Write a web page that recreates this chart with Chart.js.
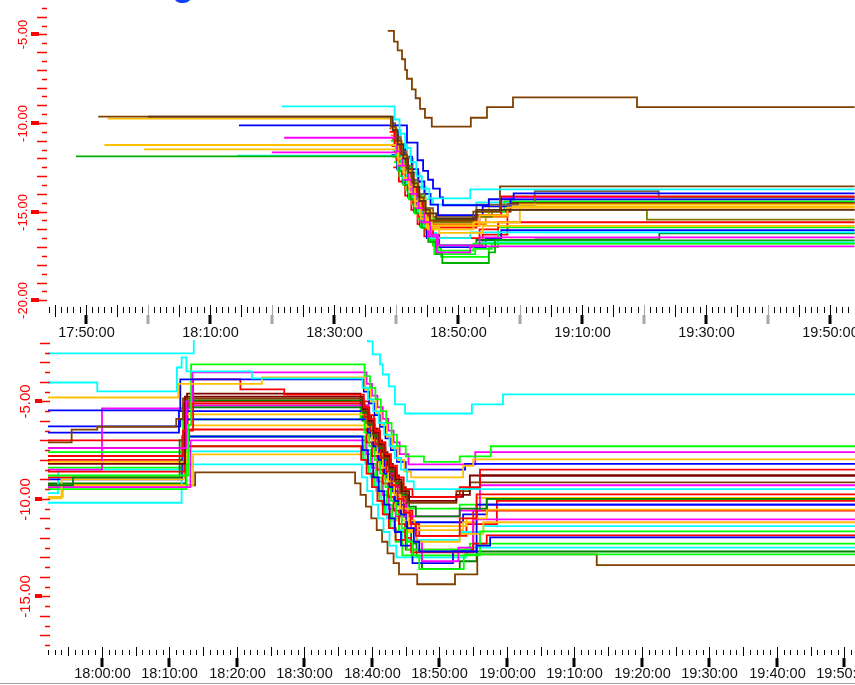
<!DOCTYPE html>
<html>
<head>
<meta charset="utf-8">
<script src="https://cdn.jsdelivr.net/npm/chart.js@4.4.1/dist/chart.umd.min.js"></script>
<style>
  html, body { margin: 0; padding: 0; background: #fff; width: 855px; height: 685px; overflow: hidden; }
  canvas { position: absolute; left: 0; }
  #topChart { top: 0; }
  #bottomChart { top: 340px; }
  #rule { position: absolute; left: 0; top: 683px; width: 855px; height: 1px; background: #a0a0a0; }
  #cut { position: absolute; left: 172px; top: -35px; font: bold 36px "Liberation Sans", Arial, sans-serif; line-height: 36px; color: #1040ff; }
</style>
</head>
<body>
<div id="cut">g</div>
<canvas id="topChart" width="855" height="340"></canvas>
<canvas id="bottomChart" width="855" height="345"></canvas>
<div id="rule"></div>
<script>

// ---- upper panel ----
const top01 = [[38.7,-4.8],[39.7,-5.4],[40.3,-5.9],[41.0,-6.4],[41.5,-7.0],[41.8,-7.5],[42.6,-8.1],[43.2,-8.6],[43.9,-9.2],[44.7,-9.7],[45.8,-10.2],[52.1,-9.7],[54.7,-9.1],[58.9,-8.55],[78.9,-9.1],[114,-9.1]];
const top02 = [[21.6,-9.06],[39.8,-9.8],[40.6,-10.6],[41.5,-11.4],[42.4,-12.2],[43.3,-13.0],[44.2,-13.7],[45.4,-14.25],[52.0,-13.74],[114,-13.74]];
const top03 = [[0,-9.64],[39.5,-10.4],[40.3,-11.2],[41.2,-12.0],[42.0,-12.8],[42.9,-13.6],[43.8,-14.4],[44.8,-15.1],[46.5,-15.4],[53.0,-14.9],[114,-14.9]];
const top04 = [[-8,-9.64],[39.2,-10.2],[40.0,-11.0],[40.9,-11.8],[41.8,-12.6],[42.7,-13.4],[43.6,-14.2],[44.5,-14.9],[45.5,-15.5],[52.5,-15.0],[56.8,-13.57],[114,-13.57]];
const top05 = [[-6.5,-9.75],[39.3,-10.3],[40.2,-11.1],[41.0,-11.9],[41.9,-12.7],[42.8,-13.5],[43.7,-14.3],[44.7,-15.0],[45.8,-15.8],[53.5,-15.2],[58.0,-14.76],[114,-14.76]];
const top06 = [[14.7,-10.13],[41.8,-11.1],[43.5,-12.1],[44.4,-12.7],[45.2,-13.2],[46.0,-13.7],[47.1,-14.2],[47.6,-14.64],[55.0,-14.3],[59.0,-13.97],[114,-13.97]];
const top07 = [[22,-10.83],[40.2,-11.6],[41.1,-12.4],[42.0,-13.2],[42.8,-14.0],[43.7,-14.8],[44.6,-15.6],[45.6,-16.3],[46.8,-16.9],[53.5,-16.45],[114,-16.45]];
const top08 = [[-7,-11.24],[40.3,-12.0],[41.2,-12.8],[42.1,-13.6],[43.0,-14.4],[43.9,-15.2],[44.9,-15.9],[47.0,-16.2],[54.0,-15.8],[114,-15.8]];
const top09 = [[-0.6,-11.49],[40.4,-12.3],[41.3,-13.1],[42.2,-13.9],[43.1,-14.7],[44.0,-15.4],[45.2,-16.0],[52.5,-15.6],[60.0,-14.59],[114,-14.59]];
const top10 = [[20,-11.66],[40.5,-12.4],[41.4,-13.2],[42.3,-14.0],[43.2,-14.8],[44.1,-15.6],[45.2,-16.4],[46.6,-17.3],[52.0,-16.96],[114,-16.96]];
const top11 = [[-11.6,-11.88],[40.6,-12.7],[41.5,-13.5],[42.4,-14.3],[43.3,-15.1],[44.2,-15.9],[45.3,-16.7],[46.5,-17.4],[47.5,-17.9],[55.0,-17.3],[56.0,-16.62],[114,-16.62]];
const top12 = [[14.4,-11.84],[40.7,-12.6],[41.6,-13.4],[42.5,-14.2],[43.4,-15.0],[44.3,-15.8],[45.5,-16.5],[52.0,-16.17],[114,-16.17]];
const top13 = [[39.0,-10.5],[39.8,-11.2],[40.7,-12.0],[41.6,-12.8],[42.5,-13.6],[43.4,-14.4],[44.3,-15.2],[45.5,-15.9],[53.0,-15.2],[57.0,-14.14],[114,-14.14]];
const top14 = [[39.2,-11.0],[40.0,-11.8],[40.9,-12.6],[41.8,-13.4],[42.7,-14.2],[43.6,-15.0],[44.5,-15.8],[45.6,-16.6],[46.8,-17.2],[52.5,-16.8],[114,-16.8]];
const top15 = [[39.1,-10.0],[39.9,-10.8],[40.8,-11.6],[41.7,-12.4],[42.6,-13.2],[43.5,-14.0],[44.6,-14.8],[46.0,-15.3],[53.0,-14.6],[62.4,-13.85],[82.4,-14.2],[114,-14.2]];
const top16 = [[39.4,-10.9],[40.3,-11.7],[41.2,-12.5],[42.1,-13.3],[43.0,-14.1],[44.0,-14.9],[45.2,-15.6],[52.8,-15.3],[55.5,-14.9],[80.5,-15.45],[114,-15.45]];
const top17 = [[39.5,-10.5],[40.4,-11.2],[41.5,-11.9],[42.6,-12.6],[43.6,-13.3],[44.6,-14.0],[45.6,-14.6],[46.8,-15.2],[54.0,-14.7],[58.5,-14.31],[114,-14.31]];
const top18 = [[39.3,-11.3],[40.1,-12.1],[41.0,-12.9],[41.9,-13.7],[42.8,-14.5],[43.7,-15.3],[44.8,-16.0],[46.0,-16.5],[53.5,-16.0],[56.5,-15.6],[114,-15.6]];
const top19 = [[39.6,-10.8],[40.5,-11.6],[41.4,-12.4],[42.3,-13.2],[43.2,-14.0],[44.2,-14.8],[45.4,-15.4],[53.0,-15.0],[57.5,-14.42],[114,-14.42]];
const top20 = [[39.4,-11.5],[40.3,-12.3],[41.2,-13.1],[42.1,-13.9],[43.0,-14.7],[44.0,-15.5],[45.2,-16.2],[46.5,-16.9],[53.5,-16.73],[114,-16.73]];
const top21 = [[39.2,-10.7],[40.0,-11.5],[40.9,-12.3],[41.8,-13.1],[42.7,-13.9],[43.6,-14.7],[44.6,-15.4],[46.0,-15.7],[54.5,-15.3],[58.0,-14.87],[114,-14.87]];
const top22 = [[39.0,-10.3],[39.8,-11.1],[40.7,-11.9],[41.6,-12.7],[42.5,-13.5],[43.4,-14.3],[44.4,-15.0],[45.5,-15.5],[53.0,-15.0],[58.5,-14.5],[114,-14.5]];
const top23 = [[39.5,-11.9],[40.3,-12.7],[41.2,-13.5],[42.1,-14.3],[43.0,-15.1],[44.0,-15.9],[45.2,-16.7],[46.2,-17.4],[52.8,-17.1],[55.5,-16.79],[114,-16.79]];
const top24 = [[39.8,-11.2],[40.6,-12.0],[41.5,-12.8],[42.4,-13.6],[43.3,-14.4],[44.3,-15.2],[45.5,-15.8],[53.5,-15.2],[57.0,-14.19],[114,-14.19]];
const top25 = [[39.6,-11.6],[40.5,-12.4],[41.4,-13.2],[42.3,-14.0],[43.2,-14.8],[44.2,-15.6],[45.4,-16.3],[47.0,-16.9],[53.0,-16.6],[62.5,-16.56],[82.5,-16.22],[114,-16.22]];
const top26 = [[39.3,-11.8],[40.2,-12.6],[41.1,-13.4],[42.0,-14.2],[42.9,-15.0],[43.9,-15.8],[45.0,-16.5],[46.3,-17.0],[54.5,-16.5],[57.0,-16.05],[114,-16.05]];
const top27 = [[39.7,-12.2],[40.6,-13.0],[41.6,-13.8],[42.6,-14.6],[43.6,-15.4],[44.8,-16.2],[46.0,-16.9],[47.3,-17.55],[55.0,-17.0],[56.5,-15.89],[114,-15.89]];
const top28 = [[39.8,-11.0],[40.7,-11.8],[41.7,-12.6],[42.7,-13.4],[43.7,-14.2],[44.8,-14.9],[46.0,-15.5],[52.5,-15.3],[55.0,-14.7],[114,-14.7]];
const top29 = [[39.9,-10.4],[40.8,-11.2],[41.8,-12.0],[42.8,-12.8],[43.8,-13.6],[44.8,-14.3],[46.0,-14.6],[53.0,-14.48],[114,-14.48]];
const top30 = [[39.6,-12.5],[40.5,-13.3],[41.5,-14.1],[42.5,-14.9],[43.5,-15.7],[44.6,-16.4],[46.0,-16.9],[54.0,-16.3],[58.0,-14.53],[114,-14.53]];

const topSeries = [top01, top02, top03, top04, top05, top06, top07, top08, top09, top10,
  top11, top12, top13, top14, top15, top16, top17, top18, top19, top20,
  top21, top22, top23, top24, top25, top26, top27, top28, top29, top30];
const topColors = ['#804000', '#00FFFF', '#5C3010', '#804000', '#FFC000', '#0000FF', '#FF00FF', '#FFC000', '#FFC000', '#FF00FF',
  '#00B000', '#00FFFF', '#FF0000', '#00FF00', '#806040', '#808000', '#0000FF', '#FF0000', '#00FF00', '#00FFFF',
  '#FF8000', '#800000', '#00FF00', '#FF00FF', '#008000', '#0000FF', '#00FF00', '#FFC000', '#00FFFF', '#FF0000'];

// ---- lower panel ----
const bot01 = [[-8,-2.54],[13.6,-1.4],[39.4,-1.92],[40.1,-2.59],[41.2,-3.1],[41.6,-3.62],[42.5,-4.23],[43.4,-5.15],[44.9,-5.62],[54.8,-5.15],[59.4,-4.64],[112,-4.64]];
const bot02 = [[-8,-4.03],[-0.7,-4.49],[11.1,-3.26],[11.8,-2.74],[12.5,-3.46],[22.2,-3.82],[38.6,-4.3],[39.4,-4.9],[40.2,-5.5],[41.0,-6.1],[41.8,-6.7],[42.6,-7.3],[43.4,-7.9],[44.3,-8.5],[45.2,-9.1],[46.2,-9.5],[112,-9.5]];
const bot03 = [[-8,-4.8],[11.3,-4.1],[23.7,-3.77],[39.0,-4.4],[39.8,-5.0],[40.6,-5.6],[41.4,-6.2],[42.2,-6.8],[43.0,-7.4],[43.8,-8.0],[44.8,-8.6],[45.8,-8.9],[53.5,-8.3],[55.0,-7.97],[112,-7.97]];
const bot04 = [[-8,-5.46],[11.6,-3.87],[38.8,-4.5],[39.6,-5.1],[40.4,-5.7],[41.2,-6.3],[42.0,-6.9],[42.8,-7.5],[43.7,-8.1],[45.0,-8.5],[53.8,-8.2],[112,-8.2]];
const bot05 = [[-8,-8.8],[12.8,-6.2],[13.2,-3.1],[38.9,-3.7],[39.7,-4.3],[40.5,-4.9],[41.3,-5.5],[42.1,-6.1],[42.9,-6.7],[43.7,-7.3],[45.0,-7.82],[47.7,-8.1],[53.0,-7.82],[57.6,-7.3],[112,-7.3]];
const bot06 = [[-8,-7.4],[12.5,-5.0],[13.4,-3.51],[39.2,-4.1],[40.0,-4.7],[40.8,-5.3],[41.6,-5.9],[42.4,-6.5],[43.2,-7.1],[44.1,-7.7],[45.4,-8.23],[55.3,-7.6],[112,-7.6]];
const bot07 = [[-8,-7.8],[12.0,-6.5],[13.5,-3.87],[20.5,-4.38],[27.0,-4.65],[38.8,-5.3],[39.6,-5.9],[40.4,-6.5],[41.2,-7.1],[42.0,-7.7],[42.8,-8.3],[43.7,-8.9],[44.7,-9.5],[46.0,-9.9],[53.0,-9.4],[56.0,-8.5],[112,-8.5]];
const bot08 = [[-8,-8.2],[12.3,-4.75],[38.7,-5.4],[39.5,-6.0],[40.3,-6.6],[41.1,-7.2],[41.9,-7.8],[42.7,-8.4],[43.5,-9.0],[44.4,-9.6],[45.5,-10.1],[52.5,-9.8],[54.5,-8.8],[112,-8.8]];
const bot09 = [[-8,-7.1],[-4.5,-6.45],[-0.7,-6.3],[11.0,-5.9],[12.0,-4.85],[38.5,-5.5],[39.3,-6.1],[40.1,-6.7],[40.9,-7.3],[41.7,-7.9],[42.5,-8.5],[43.3,-9.1],[44.2,-9.7],[45.2,-10.2],[52.5,-9.6],[54.5,-9.15],[112,-9.15]];
const bot10 = [[-8,-9.3],[-4.3,-8.9],[11.5,-7.0],[12.5,-4.95],[38.8,-5.6],[39.6,-6.2],[40.4,-6.8],[41.2,-7.4],[42.0,-8.0],[42.8,-8.6],[43.6,-9.2],[44.5,-9.8],[45.5,-10.4],[46.5,-10.9],[53.0,-10.5],[57.0,-10.0],[112,-10.0]];
const bot11 = [[-8,-8.6],[12.2,-5.1],[38.9,-5.8],[39.7,-6.5],[40.5,-7.2],[41.3,-7.9],[42.1,-8.6],[42.9,-9.3],[43.8,-10.0],[44.7,-10.7],[45.7,-11.3],[46.5,-11.9],[53.0,-11.0],[55.5,-9.77],[112,-9.77]];
const bot12 = [[-8,-9.97],[-6.0,-9.0],[12.1,-5.67],[39.2,-6.3],[40.0,-7.0],[40.8,-7.7],[41.6,-8.4],[42.4,-9.1],[43.3,-9.8],[44.2,-10.5],[45.3,-11.1],[46.3,-11.4],[54.0,-11.0],[57.0,-10.55],[112,-10.55]];
const bot13 = [[-8,-6.28],[11.6,-5.92],[39.4,-6.6],[40.2,-7.3],[41.0,-8.0],[41.8,-8.7],[42.6,-9.4],[43.4,-10.1],[44.3,-10.8],[45.2,-11.5],[46.2,-12.2],[47.0,-12.7],[55.5,-12.4],[57.5,-11.97],[112,-11.97]];
const bot14 = [[-8,-7.6],[12.4,-5.92],[38.9,-6.6],[39.6,-7.3],[40.4,-8.0],[41.2,-8.7],[42.0,-9.4],[42.8,-10.1],[43.6,-10.8],[44.4,-11.5],[45.2,-12.2],[46.0,-12.9],[47.0,-13.6],[53.6,-12.9],[56.0,-11.67],[112,-11.67]];
const bot15 = [[-8,-8.1],[12.6,-6.23],[39.5,-6.9],[40.3,-7.6],[41.1,-8.3],[41.9,-9.0],[42.7,-9.7],[43.5,-10.4],[44.4,-11.1],[45.4,-11.7],[46.5,-12.2],[53.0,-11.8],[56.5,-11.2],[112,-11.2]];
const bot16 = [[-8,-7.0],[12.9,-6.44],[39.2,-7.1],[40.0,-7.8],[40.8,-8.5],[41.6,-9.2],[42.4,-9.9],[43.2,-10.6],[44.0,-11.3],[44.9,-12.0],[45.8,-12.74],[55.0,-12.3],[57.0,-11.87],[112,-11.87]];
const bot17 = [[-8,-8.5],[0,-5.36],[13.0,-5.2],[39.4,-5.9],[40.2,-6.6],[41.0,-7.3],[41.8,-8.0],[42.6,-8.7],[43.4,-9.4],[44.2,-10.1],[45.0,-10.8],[45.8,-11.5],[46.6,-12.2],[47.4,-13.2],[52.8,-12.5],[55.0,-11.05],[112,-11.05]];
const bot18 = [[-8,-9.0],[11.9,-6.8],[38.6,-7.5],[39.4,-8.2],[40.2,-8.9],[41.0,-9.6],[41.8,-10.3],[42.6,-11.0],[43.4,-11.7],[44.3,-12.4],[46.0,-13.3],[52.0,-12.7],[55.5,-10.3],[112,-10.3]];
const bot19 = [[-8,-7.8],[12.3,-6.8],[39.0,-7.5],[39.8,-8.2],[40.6,-8.9],[41.4,-9.6],[42.2,-10.3],[43.0,-11.0],[44.0,-11.7],[45.2,-12.6],[54.5,-12.3],[112,-12.3]];
const bot20 = [[-8,-9.4],[13.1,-7.0],[39.2,-7.7],[40.0,-8.4],[40.8,-9.1],[41.6,-9.8],[42.5,-10.5],[43.5,-10.9],[53.0,-10.6],[56.0,-9.3],[112,-9.3]];
const bot21 = [[-8,-8.9],[12.2,-7.3],[38.4,-8.0],[39.2,-8.7],[40.0,-9.4],[40.8,-10.1],[41.6,-10.8],[42.5,-11.5],[43.5,-12.1],[45.0,-12.6],[55.0,-10.6],[112,-10.6]];
const bot22 = [[-8,-9.5],[12.5,-7.3],[38.7,-8.0],[39.5,-8.7],[40.3,-9.4],[41.1,-10.1],[41.9,-10.8],[42.7,-11.5],[43.5,-12.2],[44.5,-12.9],[53.8,-12.85],[112,-12.85]];
const bot23 = [[-8,-9.7],[-6.5,-8.5],[12.0,-7.56],[39.0,-8.2],[39.8,-8.9],[40.6,-9.6],[41.4,-10.3],[42.2,-11.0],[43.2,-11.6],[44.5,-12.1],[53.0,-11.7],[56.5,-11.4],[112,-11.4]];
const bot24 = [[-8,-9.9],[-5.8,-9.3],[13.5,-7.72],[39.3,-8.4],[40.1,-9.1],[40.9,-9.8],[41.8,-10.5],[42.8,-11.1],[44.0,-11.6],[53.5,-11.2],[55.5,-9.95],[112,-9.95]];
const bot25 = [[-8,-10.2],[11.8,-8.23],[38.5,-8.9],[39.3,-9.6],[40.1,-10.3],[40.9,-11.0],[41.7,-11.7],[42.6,-12.4],[43.6,-13.0],[54.0,-12.5],[112,-12.5]];
const bot26 = [[-8,-9.3],[13.8,-8.64],[37.5,-9.2],[38.3,-9.8],[39.1,-10.4],[39.9,-11.0],[40.7,-11.6],[41.5,-12.2],[42.3,-12.8],[43.2,-13.3],[44.0,-13.87],[46.7,-14.38],[52.3,-13.87],[55.6,-12.85],[73.3,-13.4],[112,-13.4]];
const bot27 = [[-8,-9.2],[12.4,-5.3],[38.6,-6.0],[39.4,-6.7],[40.2,-7.4],[41.0,-8.1],[41.8,-8.8],[42.6,-9.5],[43.4,-10.2],[44.2,-10.9],[45.0,-11.6],[45.8,-12.3],[46.6,-13.0],[47.4,-13.6],[53.0,-13.2],[55.5,-12.7],[112,-12.7]];
const bot28 = [[-8,-7.4],[12.6,-4.6],[38.3,-5.2],[39.1,-5.8],[39.9,-6.4],[40.7,-7.0],[41.5,-7.6],[42.3,-8.2],[43.1,-8.8],[44.0,-9.4],[45.0,-9.9],[53.5,-9.5],[56.0,-8.8],[112,-8.8]];
const bot29 = [[-8,-6.6],[11.4,-5.5],[39.0,-6.1],[39.8,-6.8],[40.6,-7.5],[41.4,-8.2],[42.2,-8.9],[43.0,-9.6],[43.8,-10.3],[44.8,-10.9],[45.8,-11.2],[53.5,-10.8],[57.0,-10.3],[112,-10.3]];
const bot30 = [[-8,-8.0],[12.7,-5.0],[39.5,-5.7],[40.3,-6.4],[41.1,-7.1],[41.9,-7.8],[42.7,-8.5],[43.5,-9.2],[44.3,-9.9],[45.1,-10.6],[46.0,-11.3],[47.0,-11.9],[54.0,-11.3],[58.5,-10.1],[112,-10.1]];
const bot31 = [[-8,-8.4],[12.0,-5.2],[38.3,-5.8],[39.1,-6.4],[40.0,-7.0],[40.8,-7.6],[41.6,-8.2],[42.4,-8.8],[43.2,-9.4],[44.1,-10.0],[45.2,-10.5],[53.0,-10.3],[57.0,-10.0],[112,-10.0]];

const botSeries = [bot01, bot02, bot03, bot04, bot05, bot06, bot07, bot08, bot09, bot10,
  bot11, bot12, bot13, bot14, bot15, bot16, bot17, bot18, bot19, bot20,
  bot21, bot22, bot23, bot24, bot25, bot26, bot27, bot28, bot29, bot30, bot31];
const botColors = ['#00FFFF', '#00FFFF', '#FFC000', '#0000FF', '#00FF00', '#FF00FF', '#FF0000', '#800000', '#804000', '#008000',
  '#FF0000', '#FFC000', '#0000FF', '#00FF00', '#FFC000', '#FF0000', '#FF00FF', '#0000FF', '#00FF00', '#FF00FF',
  '#FF0000', '#00FF00', '#00FFFF', '#FFC000', '#00FFFF', '#804000', '#008000', '#800000', '#0000FF', '#FF0000', '#00FF00'];

function clock(m) {
    var total = 18 * 60 + m;
    var h = Math.floor(total / 60), mm = total % 60;
    return h + ':' + (mm < 10 ? '0' : '') + mm + ':00';
}

function makeSets(series, colors) {
    return series.map((s, i) => ({
        data: s.map(p => ({x: p[0], y: p[1]})),
        borderColor: colors[i],
        borderWidth: 1.8,
        pointRadius: 0,
        stepped: true,
        fill: false
    }));
}

// old style axes: red value ticks with rotated labels, minute ticks on the time axis
const oldAxes = {
    id: 'oldAxes',
    afterDraw(chart) {
        var o = chart.options.plugins.oldAxes;
        var ctx = chart.ctx, xs = chart.scales.x, ys = chart.scales.y;
        ctx.save();
        ctx.strokeStyle = '#FF0000';
        ctx.fillStyle = '#FF0000';
        ctx.lineWidth = 1.5;
        for (var k = Math.ceil(ys.min * 2); k <= Math.floor(ys.max * 2); k++) {
            var v = k / 2;
            var y = Math.round(ys.getPixelForValue(v)) + 0.5;
            ctx.beginPath();
            ctx.moveTo(k % 2 === 0 ? o.yLong : o.yShort, y);
            ctx.lineTo(o.yEdge, y);
            ctx.stroke();
            if (k % 10 === 0) {
                ctx.fillRect(o.yBlock[0], y - 2.5, o.yBlock[1] - o.yBlock[0], 4);
                ctx.save();
                ctx.translate(o.yLabelX, y);
                ctx.rotate(-Math.PI / 2);
                ctx.font = o.yFont;
                ctx.textAlign = 'center';
                ctx.textBaseline = 'middle';
                ctx.fillText(v.toFixed(2), 0, 0);
                ctx.restore();
            }
        }
        ctx.lineWidth = 1;
        ctx.font = '14.5px "Liberation Sans", Arial, sans-serif';
        ctx.textAlign = 'center';
        ctx.textBaseline = 'middle';
        for (var m = Math.ceil(xs.min); m <= Math.floor(xs.max); m++) {
            var x = Math.round(xs.getPixelForValue(m)) + 0.5;
            var major = ((m % 10) + 10) % 10 === 0;
            var labelled = major && (((m - o.labelFrom) % o.labelEvery) + o.labelEvery) % o.labelEvery === 0;
            ctx.strokeStyle = major && !labelled ? '#a8a8a8' : '#000';
            ctx.fillStyle = ctx.strokeStyle;
            ctx.beginPath();
            if (major) {
                ctx.moveTo(x, o.xMid[0]); ctx.lineTo(x, o.xBlock[0]);
            } else if (m % 5 === 0) {
                ctx.moveTo(x, o.xMid[0]); ctx.lineTo(x, o.xMid[1]);
            } else {
                ctx.moveTo(x, o.xMinor[0]); ctx.lineTo(x, o.xMinor[1]);
            }
            ctx.stroke();
            if (major) {
                ctx.fillRect(x - 2, o.xBlock[0], 3, o.xBlock[1] - o.xBlock[0]);
            }
            if (labelled) {
                ctx.fillStyle = '#111';
                ctx.fillText(clock(m), x, o.xLabelY);
            }
        }
        ctx.restore();
    }
};

function baseOptions(xMin, xMax, yMin, yMax, padding, axes) {
    return {
        responsive: false,
        animation: false,
        events: [],
        layout: {padding: padding},
        plugins: {legend: {display: false}, tooltip: {enabled: false}, oldAxes: axes},
        scales: {
            x: {type: 'linear', min: xMin, max: xMax, display: false},
            y: {type: 'linear', min: yMin, max: yMax, display: false}
        }
    };
}

new Chart(document.getElementById('topChart'), {
    type: 'line',
    data: {datasets: makeSets(topSeries, topColors)},
    options: baseOptions(-16.1, 114.06, -20.1, -3.45, {left: 48, right: 0, top: 7, bottom: 38}, {
        yLong: 37, yShort: 42, yEdge: 47, yBlock: [31, 39], yLabelX: 23,
        yFont: '13px "Liberation Sans", Arial, sans-serif',
        xMinor: [307, 313], xMid: [305, 317], xBlock: [315, 324], xLabelY: 333,
        labelFrom: -10, labelEvery: 20
    }),
    plugins: [oldAxes]
});

new Chart(document.getElementById('bottomChart'), {
    type: 'line',
    data: {datasets: makeSets(botSeries, botColors)},
    options: baseOptions(-8, 111.56, -17.65, -1.85, {left: 48, right: 0, top: 0, bottom: 37}, {
        yLong: 40, yShort: 45, yEdge: 50, yBlock: [35, 42], yLabelX: 26,
        yFont: '15px "Liberation Sans", Arial, sans-serif',
        xMinor: [310, 315], xMid: [307, 316], xBlock: [318, 327], xLabelY: 334,
        labelFrom: 0, labelEvery: 10
    }),
    plugins: [oldAxes]
});
</script>
</body>
</html>
